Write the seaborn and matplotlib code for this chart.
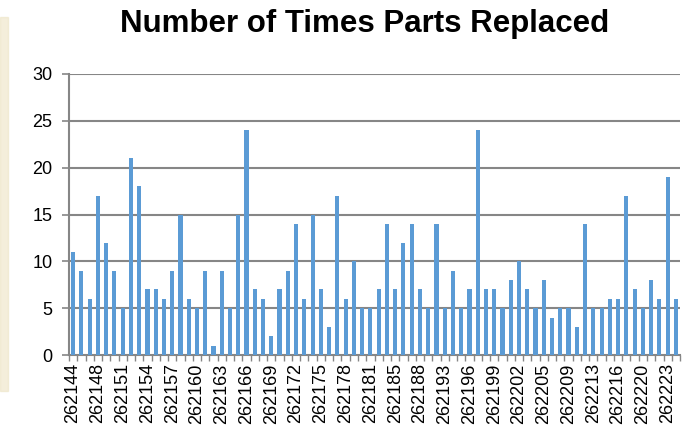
# Number of Times Parts Replaced - bar chart per part id

import numpy as np
import pandas as pd
import matplotlib
matplotlib.use("Agg")
import matplotlib.pyplot as plt
import seaborn as sns

# part ids (only every third one is printed on the axis)
part_ids = [
    "262144", "262145", "262146", "262148", "262149", "262150", "262151", "262152",
    "262153", "262154", "262155", "262156", "262157", "262158", "262159", "262160",
    "262161", "262162", "262163", "262164", "262165", "262166", "262167", "262168",
    "262169", "262170", "262171", "262172", "262173", "262174", "262175", "262176",
    "262177", "262178", "262179", "262180", "262181", "262182", "262183", "262185",
    "262186", "262187", "262188", "262190", "262191", "262193", "262194", "262195",
    "262196", "262197", "262198", "262199", "262200", "262201", "262202", "262203",
    "262204", "262205", "262206", "262207", "262209", "262210", "262211", "262213",
    "262214", "262215", "262216", "262217", "262218", "262220", "262221", "262222",
    "262223", "262224",
]

times_replaced = [
    11, 9, 6, 17, 12, 9, 5, 21, 18, 7, 7, 6, 9, 15, 6, 5, 9, 1, 9, 5,
    15, 24, 7, 6, 2, 7, 9, 14, 6, 15, 7, 3, 17, 6, 10, 5, 5, 7, 14, 7,
    12, 14, 7, 5, 14, 5, 9, 5, 7, 24, 7, 7, 5, 8, 10, 7, 5, 8, 4, 5,
    5, 3, 14, 5, 5, 6, 6, 17, 7, 5, 8, 6, 19, 6,
]

y_ticks = [0, 5, 10, 15, 20, 25, 30]

df = pd.DataFrame({"part": part_ids, "count": times_replaced})

sns.set_style("white")
plt.rcParams["font.family"] = ["Liberation Sans", "DejaVu Sans"]
plt.rcParams["text.color"] = "black"
plt.rcParams["xtick.color"] = "black"
plt.rcParams["ytick.color"] = "black"

fig = plt.figure(figsize=(6.92, 4.34), dpi=100)
ax = fig.add_axes([0.0997, 0.182, 0.883, 0.6475])

grid_col = "#868686"
for yv in y_ticks[1:]:
    ax.axhline(yv, color=grid_col, linewidth=1.5, zorder=1)

sns.barplot(data=df, x="part", y="count", order=part_ids, color="#5B9BD5",
            width=0.5, saturation=1, linewidth=0, ax=ax, zorder=3)

ax.set_ylim(0, 30)
ax.set_xlim(-0.5, len(part_ids) - 0.5)
ax.set_yticks(y_ticks)

# label every third part, ticks at category boundaries
label_pos = np.arange(0, len(part_ids), 3)
ax.set_xticks(label_pos)
ax.set_xticklabels([part_ids[i] for i in label_pos], rotation=90, fontsize=13)
ax.set_xticks(np.arange(len(part_ids) + 1) - 0.5, minor=True)
ax.tick_params(axis="x", which="major", length=0, pad=6, bottom=True)
ax.tick_params(axis="x", which="minor", length=4, width=1, color=grid_col,
               direction="out", bottom=True)
ax.tick_params(axis="y", labelsize=13, length=5, width=1.2, color=grid_col, pad=7, left=True)

ax.set_xlabel("")
ax.set_ylabel("")
for side in ["top", "right"]:
    ax.spines[side].set_visible(False)
for side in ["left", "bottom"]:
    ax.spines[side].set_color(grid_col)
    ax.spines[side].set_linewidth(1.5)

fig.text(0.527, 0.945, "Number of Times Parts Replaced", ha="center", va="center",
         fontsize=22.5, fontweight="bold")

# faint beige strip on the left edge of the source image
fig.patches.append(plt.Rectangle((0, 0.1), 0.012, 0.86, transform=fig.transFigure,
                                 color="#EDE4C4", alpha=0.6, zorder=0))

fig.savefig("out.png", dpi=100)
